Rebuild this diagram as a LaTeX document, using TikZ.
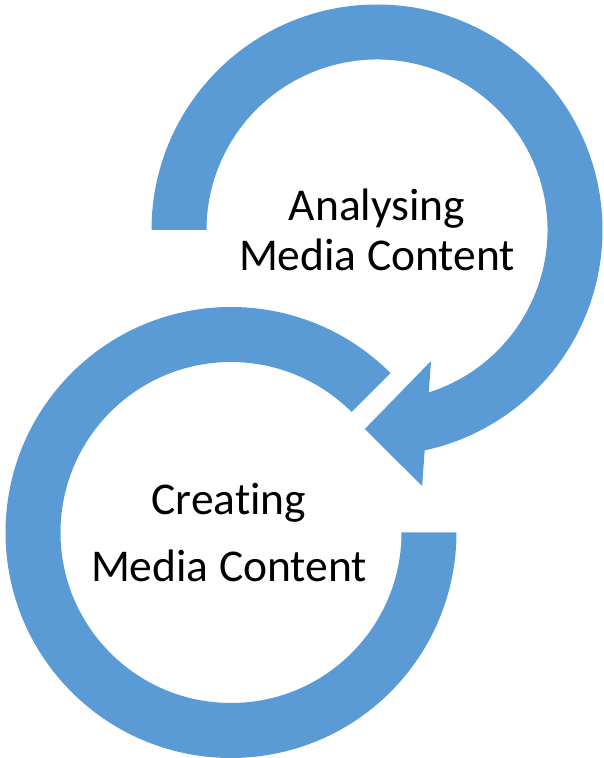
\documentclass[tikz,border=0pt]{standalone}
\usepackage{fontspec}
\setmainfont[Ligatures=NoCommon]{Carlito}
\usetikzlibrary{positioning}
\definecolor{ringblue}{HTML}{5B9BD5}
\tikzset{
  ring/.style={fill=ringblue,draw=none},
  ringtext/.style={font=\fontsize{25.9}{30}\selectfont,anchor=base,inner sep=0pt,outer sep=0pt}
}

\begin{document}
\begin{tikzpicture}[x=0.02cm,y=0.02cm]
	\useasboundingbox (0,0) rectangle (604,758);
	\coordinate (topc) at (377,528);
	\coordinate (botc) at (231,225.5);

	% lower ring, open at the upper right
	\path [ring] ([shift={(45:225.5)}]botc) arc [start angle=45,end angle=360,radius=225.5]
		-- ([shift={(0:170.5)}]botc) arc [start angle=360,end angle=45,radius=170.5] -- cycle;

	% upper ring with its arrow head
	\path [ring] ([shift={(180:225.5)}]topc) arc [start angle=180,end angle=-77.8,radius=225.5]
		-- ([shift={(-80:260)}]topc) -- ([shift={(-93.5:199.4)}]topc)
		-- ([shift={(-67.6:141.7)}]topc) -- ([shift={(-72.3:170.5)}]topc)
		arc [start angle=-72.3,end angle=180,radius=170.5] -- cycle;

	\node [ringtext] at (377,537) (analyse1) {Analysing};
	\node [ringtext] at (377,487) (analyse2) {Media Content};
	\node [ringtext] at (229,243) (create1) {Creating};
	\node [ringtext] at (229,176) (create2) {Media Content};
\end{tikzpicture}
\end{document}
